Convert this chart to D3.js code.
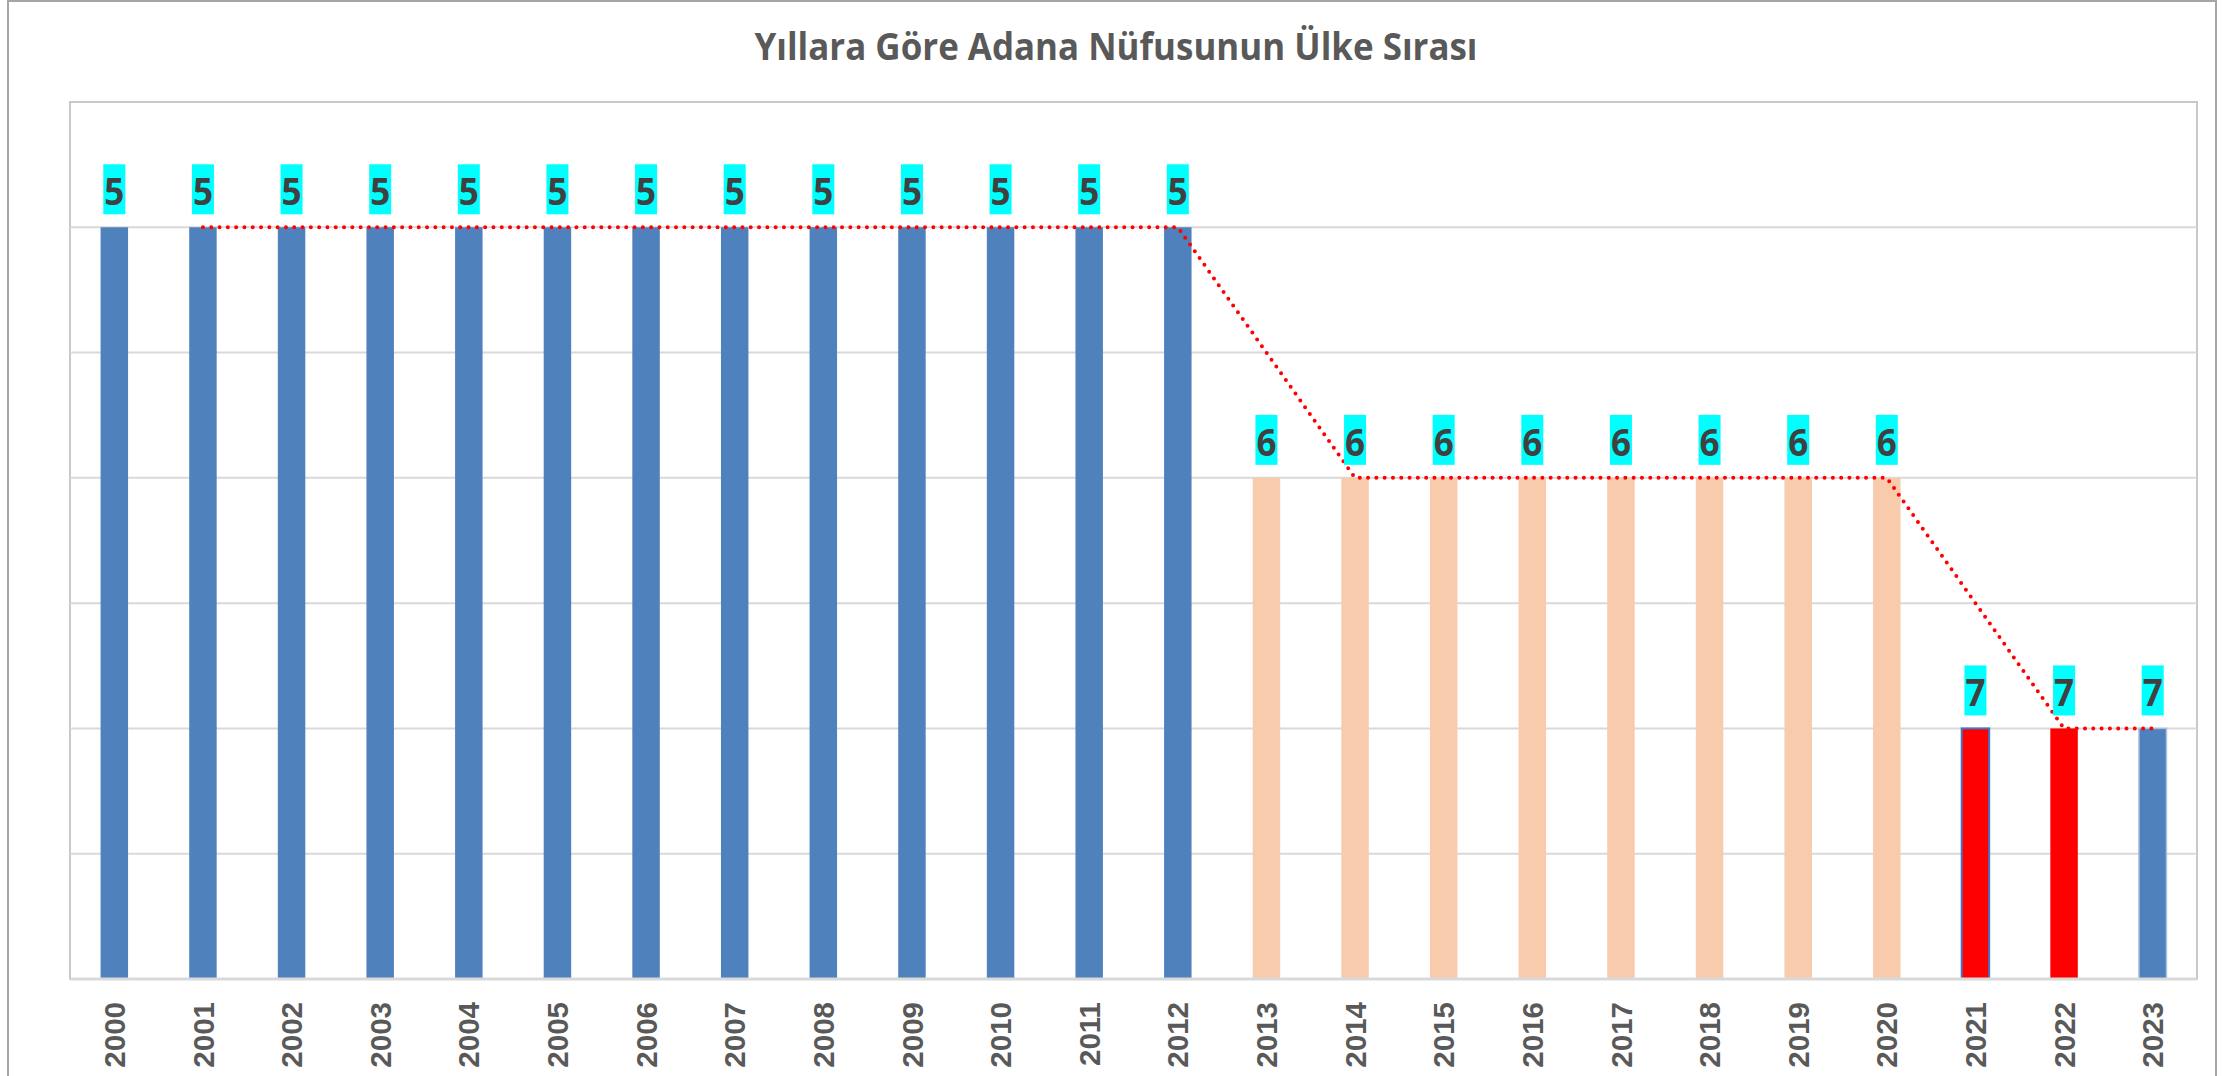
<!DOCTYPE html>
<html>
<head>
<meta charset="utf-8">
<script src="https://cdn.jsdelivr.net/npm/d3@7"></script>
<style>
  html, body { margin: 0; padding: 0; background: #fff; }
  svg { display: block; }
</style>
</head>
<body>
<svg id="chart" width="2239" height="1076"></svg>
<script>
// ---- data ----
const titleText = "Yıllara Göre Adana Nüfusunun Ülke Sırası";
const years = ["2000","2001","2002","2003","2004","2005","2006","2007","2008","2009","2010","2011",
               "2012","2013","2014","2015","2016","2017","2018","2019","2020","2021","2022","2023"];
const ranks = [5,5,5,5,5,5,5,5,5,5,5,5,5,6,6,6,6,6,6,6,6,7,7,7];
// 2-period moving-average trendline (none for 2000)
const trend = [null,5,5,5,5,5,5,5,5,5,5,5,5,5.5,6,6,6,6,6,6,6,6.5,7,7];
const gridTicks = [7.5,7,6.5,6,5.5,5];
// bar groups (used for colouring)
const groups = ["a","a","a","a","a","a","a","a","a","a","a","a","a",
                "b","b","b","b","b","b","b","b","c","c","d"];

// ---- styles ----
const fillFor = {a:"#4F81BD", b:"#F8CBAD", c:"#FF0000", d:"#4F81BD"};
const strokeFor = {a:"none", b:"none", c:"none", d:"#A9BEDD"};

const svg = d3.select("#chart");
const plot = {left:70, right:2197, top:102, bottom:979};

// outer chart border
svg.append("rect").attr("x",8).attr("y",1).attr("width",2208).attr("height",1200)
  .attr("fill","#fff").attr("stroke","#A6A6A6").attr("stroke-width",2);

// title
svg.append("text").attr("x",1116).attr("y",60).attr("text-anchor","middle")
  .attr("font-family","'Open Sans', sans-serif").attr("font-weight",700)
  .attr("font-size",37).attr("fill","#595959")
  .attr("textLength",723).attr("lengthAdjust","spacingAndGlyphs")
  .text(titleText);

const x = d3.scaleBand().domain(years).range([plot.left, plot.right]).paddingInner(0.69).paddingOuter(0.345);
const y = d3.scaleLinear().domain([8, 4.5]).range([plot.bottom, plot.top]);

// plot area border
svg.append("rect").attr("x",plot.left).attr("y",plot.top)
  .attr("width",plot.right-plot.left).attr("height",plot.bottom-plot.top)
  .attr("fill","none").attr("stroke","#C8C8C8").attr("stroke-width",2);

// gridlines
svg.append("g").selectAll("line").data(gridTicks).join("line")
  .attr("x1",plot.left).attr("x2",plot.right)
  .attr("y1",d=>y(d)).attr("y2",d=>y(d))
  .attr("stroke","#D9D9D9").attr("stroke-width",2);

const data = years.map((yr,i)=>({year:yr, rank:ranks[i], trend:trend[i], group:groups[i]}));

// bars
svg.append("g").selectAll("rect").data(data).join("rect")
  .attr("x",d=>x(d.year)).attr("width",x.bandwidth())
  .attr("y",d=>y(d.rank)).attr("height",d=>y(8)-y(d.rank))
  .attr("fill",d=>fillFor[d.group])
  .attr("stroke",d=>strokeFor[d.group]).attr("stroke-width",1.5);
// 2021 has a blue outline
svg.append("rect").attr("x",x("2021")).attr("width",x.bandwidth())
  .attr("y",y(ranks[21])).attr("height",y(8)-y(ranks[21]))
  .attr("fill","none").attr("stroke","#4472C4").attr("stroke-width",2);

// x axis line
svg.append("line").attr("x1",plot.left).attr("x2",plot.right)
  .attr("y1",plot.bottom).attr("y2",plot.bottom)
  .attr("stroke","#D9D9D9").attr("stroke-width",3);

// x axis labels
const xAxis = d3.axisBottom(x).tickSize(0).tickPadding(0);
const gx = svg.append("g").attr("transform",`translate(0,${plot.bottom})`).call(xAxis);
gx.select(".domain").remove();
gx.selectAll(".tick text")
  .attr("font-family","'Liberation Sans', Arial, sans-serif").attr("font-weight",700)
  .attr("font-size",29.5).attr("fill","#595959")
  .attr("text-anchor","end").attr("dy","0.36em")
  .attr("transform","translate(0,23) rotate(-90)")
  .attr("x",0).attr("y",0);

// trendline (dotted red)
const line = d3.line().defined(d=>d.trend!=null)
  .x(d=>x(d.year)+x.bandwidth()/2).y(d=>y(d.trend));
svg.append("path").datum(data).attr("d",line)
  .attr("fill","none").attr("stroke","#FF0000").attr("stroke-width",4)
  .attr("stroke-linecap","round").attr("stroke-dasharray","0 8.3");

// data labels
const lab = svg.append("g").selectAll("g").data(data).join("g")
  .attr("transform",d=>`translate(${x(d.year)+x.bandwidth()/2},${y(d.rank)})`);
lab.append("rect").attr("x",-11).attr("y",-63).attr("width",22).attr("height",50).attr("fill","#00FFFF");
lab.append("text").attr("x",0).attr("y",-22).attr("text-anchor","middle")
  .attr("font-family","'Open Sans', sans-serif").attr("font-weight",700)
  .attr("font-size",38).attr("fill","#404040")
  .attr("textLength",20).attr("lengthAdjust","spacingAndGlyphs")
  .text(d=>d.rank);
</script>
</body>
</html>
